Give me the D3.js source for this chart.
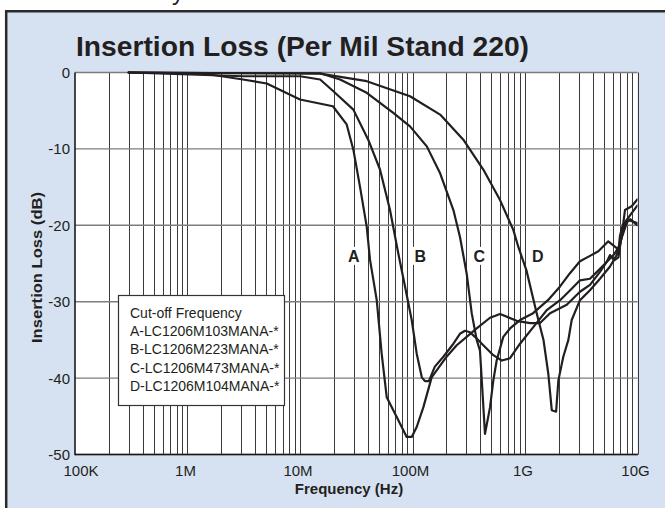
<!DOCTYPE html>
<html><head><meta charset="utf-8">
<script src="https://cdn.jsdelivr.net/npm/d3@7"></script>
<style>html,body{margin:0;padding:0;background:#fff;}svg{display:block;}</style>
</head><body>
<svg id="chart" width="665" height="508"></svg>
<script>
// ---- data ----
const titleText = "Insertion Loss (Per Mil Stand 220)";
const xAxisTitle = "Frequency (Hz)";
const yAxisTitle = "Insertion Loss (dB)";
const xTickValues = [1e5, 1e6, 1e7, 1e8, 1e9, 1e10];
const xTickLabels = ["100K", "1M", "10M", "100M", "1G", "10G"];
const yTickValues = [0, -10, -20, -30, -40, -50];
const yTickLabels = ["0", "-10", "-20", "-30", "-40", "-50"];
const seriesNames = ["A", "B", "C", "D"];
const seriesLabelFreq = [3e7, 1.17e8, 3.93e8, 1.3e9];
const seriesLabelDb = [-24, -24, -24, -24];
const legendTitle = "Cut-off Frequency";
const legendItems = ["A-LC1206M103MANA-*", "B-LC1206M223MANA-*", "C-LC1206M473MANA-*", "D-LC1206M104MANA-*"];

const curveA = [[3e5,0],[1.0e6,-0.1],[1.58e6,-0.26],[3.11e6,-0.92],[5.06e6,-1.44],[1e7,-3.54],[1.96e7,-4.42],[2.6e7,-6.8],[2.98e7,-10.1],[3.41e7,-14.9],[3.92e7,-20.2],[4.19e7,-24.5],[4.81e7,-29.8],[5.32e7,-36.8],[5.9e7,-42.5],[7.24e7,-45.1],[8.88e7,-47.7],[9.84e7,-47.7],[1.09e8,-46.4],[1.25e8,-43.8],[1.48e8,-39.9],[1.64e8,-39.0],[2.01e8,-37.2],[2.47e8,-35.7],[3.03e8,-34.6],[3.72e8,-33.5],[4.89e8,-32.1],[6.0e8,-31.6],[8.43e8,-32.5],[1.11e9,-32.8],[1.36e9,-32.8],[1.67e9,-31.5],[2.35e9,-30.4],[3.08e9,-28.7],[3.78e9,-27.8],[4.64e9,-26.1],[5.32e9,-24.8],[6.2e9,-23.8],[6.98e9,-22.6],[7.74e9,-19.6],[8.87e9,-18.4],[1e10,-17.4]];
const curveB = [[3e5,0],[3.13e6,-0.49],[1e7,-0.49],[1.51e7,-0.92],[1.98e7,-2.45],[2.98e7,-4.86],[4.04e7,-8.79],[5.14e7,-12.7],[6.31e7,-18.0],[7.48e7,-23.7],[8.58e7,-28.0],[9.84e7,-32.4],[1.09e8,-36.8],[1.21e8,-39.9],[1.29e8,-40.4],[1.40e8,-40.4],[1.53e8,-39.0],[1.58e8,-38.5],[1.88e8,-37.2],[2.31e8,-35.5],[2.64e8,-34.2],[2.93e8,-33.8],[3.24e8,-34.0],[3.59e8,-34.6],[4.26e8,-35.7],[5.23e8,-37.0],[6.21e8,-37.7],[7.36e8,-37.4],[9.03e8,-35.5],[1.19e9,-33.3],[1.56e9,-31.1],[2.05e9,-29.8],[2.6e9,-28.3],[3.08e9,-27.2],[3.78e9,-27.0],[4.64e9,-25.7],[5.32e9,-24.8],[5.7e9,-23.9],[6.2e9,-24.6],[6.77e9,-24.2],[7.2e9,-21.5],[7.6e9,-20.0],[8.6e9,-19.2],[1e10,-20.0]];
const curveC = [[3e5,0],[3e6,-0.1],[1.51e7,-0.1],[2.27e7,-0.92],[3.92e7,-2.66],[6.75e7,-5.29],[9.5e7,-7.05],[1.34e8,-9.67],[1.76e8,-13.2],[2.31e8,-18.0],[2.64e8,-21.5],[3.03e8,-26.3],[3.36e8,-31.5],[3.72e8,-35.0],[3.98e8,-36.4],[4.41e8,-47.3],[4.89e8,-43.8],[5.23e8,-40.3],[5.6e8,-37.7],[6.41e8,-34.6],[7.36e8,-33.5],[9.03e8,-32.4],[1.18e9,-31.5],[1.6e9,-29.8],[2.05e9,-28.0],[2.5e9,-26.3],[3.08e9,-24.7],[3.78e9,-24.0],[4.49e9,-23.4],[5.5e9,-22.1],[6.53e9,-23.0],[6.77e9,-23.4],[6.98e9,-21.4],[7.48e9,-19.7],[7.74e9,-18.0],[8.87e9,-17.5],[1e10,-16.6]];
const curveD = [[3e5,0],[1.51e7,-0.15],[3.92e7,-1.14],[9.5e7,-3.11],[1.76e8,-5.51],[2.83e8,-8.79],[4.26e8,-12.7],[6.0e8,-16.7],[7.87e8,-20.6],[8.71e8,-22.8],[1.03e9,-25.9],[1.27e9,-31.5],[1.46e9,-35.0],[1.61e9,-39.4],[1.73e9,-44.2],[1.89e9,-44.4],[1.98e9,-40.3],[2.19e9,-37.2],[2.43e9,-35.0],[2.6e9,-32.4],[3.08e9,-29.8],[3.78e9,-28.5],[4.64e9,-27.0],[5.7e9,-25.4],[6.53e9,-23.9],[6.98e9,-22.3],[8.2e9,-19.3],[1e10,-19.7]];
const curves = [curveA, curveB, curveC, curveD];

// ---- layout ----
const svg = d3.select("#chart");
const W = 665, H = 508;
const plot = {left: 75, right: 637.5, top: 72.5, bottom: 454.5};
const x = d3.scaleLog().domain([1e5, 1e10]).range([plot.left, plot.right]);
const y = d3.scaleLinear().domain([0, -50]).range([plot.top, plot.bottom]);
const FONT = "'Liberation Sans', Arial, Helvetica, sans-serif";
const INK = "#231f20";

// frame
svg.append("rect").attr("x", 5).attr("y", 10).attr("width", W).attr("height", H)
  .attr("fill", "#d6e2f2");
svg.append("path").attr("d", `M6.2,${H+5} L6.2,11.2 L${W+5},11.2`)
  .attr("fill", "none").attr("stroke", "#2a2a2a").attr("stroke-width", 2.5);
// fragment of a line of text above the frame (cut off in the reference too)
svg.append("text").attr("x", 172).attr("y", 0).attr("font-family", FONT)
  .attr("font-size", 24).attr("fill", INK).text("y");

// plot background
svg.append("rect").attr("x", plot.left).attr("y", plot.top)
  .attr("width", plot.right - plot.left).attr("height", plot.bottom - plot.top)
  .attr("fill", "#fff");

// vertical grid (log minor ticks)
const vGrid = [];
for (let e = 5; e < 10; e++) for (let m = 1; m <= 9; m++) vGrid.push(m * Math.pow(10, e));
vGrid.push(1e10);
svg.append("g").selectAll("line").data(vGrid.filter(v => v > 1e5)).join("line")
  .attr("x1", d => Math.round(x(d)) + 0.5).attr("x2", d => Math.round(x(d)) + 0.5)
  .attr("y1", plot.top).attr("y2", plot.bottom)
  .attr("stroke", "#3a3a3a").attr("stroke-width", 1);

// horizontal grid
svg.append("g").selectAll("line").data(yTickValues).join("line")
  .attr("x1", plot.left).attr("x2", plot.right)
  .attr("y1", d => y(d)).attr("y2", d => y(d))
  .attr("stroke", "#7d7d7d").attr("stroke-width", 1.4);

// axes lines
svg.append("line").attr("x1", plot.left).attr("x2", plot.left).attr("y1", plot.top).attr("y2", plot.bottom + 0.7)
  .attr("stroke", "#1a1a1a").attr("stroke-width", 1.6);
svg.append("line").attr("x1", plot.left).attr("x2", plot.right + 0.5).attr("y1", plot.bottom).attr("y2", plot.bottom)
  .attr("stroke", "#1a1a1a").attr("stroke-width", 1.6);

// tick labels
const xlab = svg.append("g").attr("font-family", FONT).attr("font-size", 15).attr("fill", INK);
xlab.selectAll("text").data(xTickValues).join("text")
  .attr("x", (d, i) => x(d) + (i === 0 ? 6 : -2)).attr("y", 476)
  .attr("text-anchor", "middle").text((d, i) => xTickLabels[i]);
const ylab = svg.append("g").attr("font-family", FONT).attr("font-size", 15).attr("fill", INK);
ylab.selectAll("text").data(yTickValues).join("text")
  .attr("x", 70).attr("y", d => y(d) + 5.5)
  .attr("text-anchor", "end").text((d, i) => yTickLabels[i]);

// titles
svg.append("text").attr("x", 76).attr("y", 56).attr("font-family", FONT)
  .attr("font-size", 28).attr("font-weight", "bold").attr("fill", INK)
  .attr("textLength", 453).attr("lengthAdjust", "spacingAndGlyphs").text(titleText);
svg.append("text").attr("x", 349).attr("y", 494).attr("font-family", FONT)
  .attr("font-size", 15).attr("font-weight", "bold").attr("fill", INK).attr("text-anchor", "middle")
  .text(xAxisTitle);
svg.append("text").attr("transform", "translate(42,267.5) rotate(-90)").attr("font-family", FONT)
  .attr("font-size", 15).attr("font-weight", "bold").attr("fill", INK).attr("text-anchor", "middle")
  .attr("textLength", 151).attr("lengthAdjust", "spacingAndGlyphs").text(yAxisTitle);

// series letter labels with white background
const lbl = svg.append("g");
seriesNames.forEach((n, i) => {
  const cx = x(seriesLabelFreq[i]), cy = y(seriesLabelDb[i]);
  lbl.append("rect").attr("x", cx - 8).attr("y", cy - 9).attr("width", 16).attr("height", 18).attr("fill", "#fff");
  lbl.append("text").attr("x", cx).attr("y", cy + 6).attr("text-anchor", "middle")
    .attr("font-family", FONT).attr("font-size", 16).attr("font-weight", "bold").attr("fill", INK).text(n);
});

// curves
const line = d3.line().x(d => x(d[0])).y(d => y(d[1]));
svg.append("defs").append("clipPath").attr("id", "pc").append("rect")
  .attr("x", plot.left).attr("y", plot.top - 2).attr("width", plot.right - plot.left).attr("height", plot.bottom - plot.top + 2);
svg.append("g").attr("clip-path", "url(#pc)").selectAll("path").data(curves).join("path")
  .attr("d", line).attr("fill", "none").attr("stroke", INK).attr("stroke-width", 2.2)
  .attr("stroke-linejoin", "round").attr("stroke-linecap", "round");

// legend
const lg = svg.append("g");
lg.append("rect").attr("x", 118.5).attr("y", 295.5).attr("width", 166).attr("height", 110)
  .attr("fill", "#fff").attr("stroke", "#333").attr("stroke-width", 1.2);
lg.selectAll("text").data([legendTitle].concat(legendItems)).join("text")
  .attr("x", 130).attr("y", (d, i) => 317.5 + i * 18.4)
  .attr("font-family", FONT).attr("font-size", 14).attr("fill", INK).text(d => d);
</script>
</body></html>
